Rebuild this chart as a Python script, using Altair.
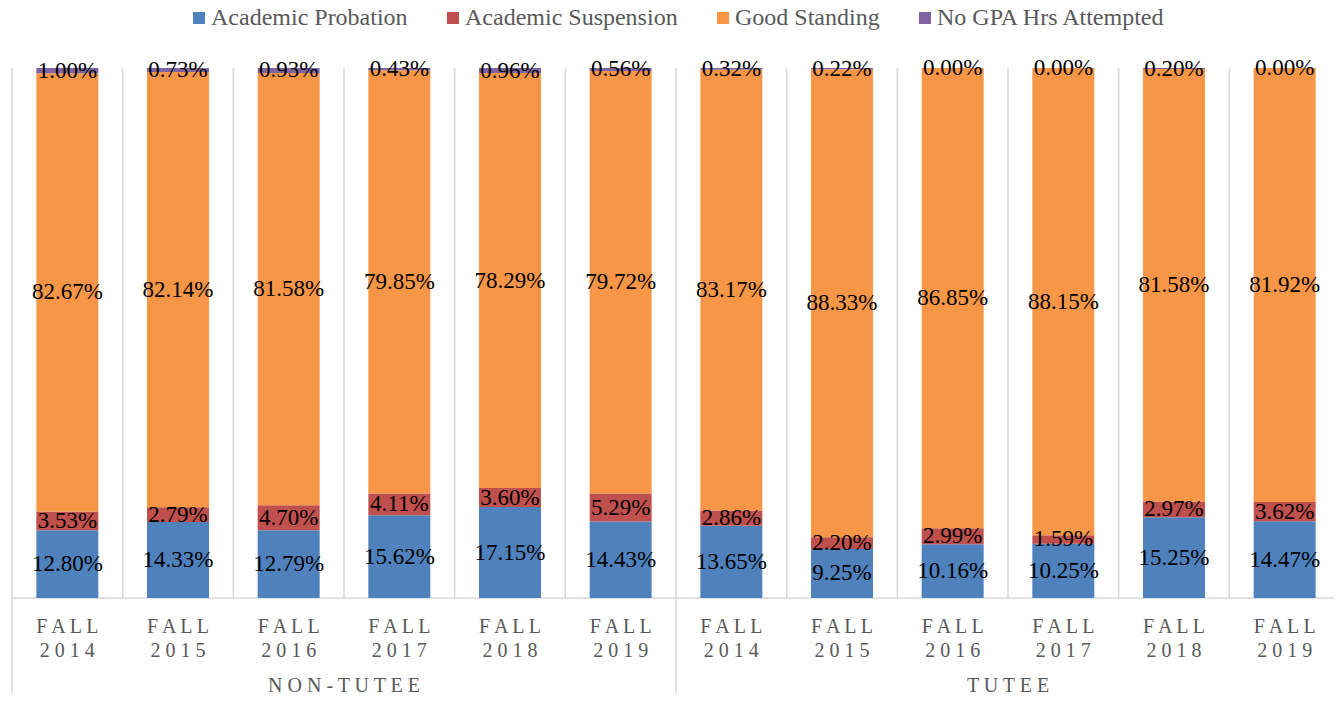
import altair as alt
import pandas as pd

# ---- data ----
groups = ["NON-TUTEE", "TUTEE"]
years = ["2014", "2015", "2016", "2017", "2018", "2019"]
statuses = ["Academic Probation", "Academic Suspension", "Good Standing", "No GPA Hrs Attempted"]
colors = ["#4F81BD", "#C0504D", "#F79646", "#8064A2"]

nt_probation = [12.80, 14.33, 12.79, 15.62, 17.15, 14.43]
nt_suspension = [3.53, 2.79, 4.70, 4.11, 3.60, 5.29]
nt_good = [82.67, 82.14, 81.58, 79.85, 78.29, 79.72]
nt_nogpa = [1.00, 0.73, 0.93, 0.43, 0.96, 0.56]

t_probation = [13.65, 9.25, 10.16, 10.25, 15.25, 14.47]
t_suspension = [2.86, 2.20, 2.99, 1.59, 2.97, 3.62]
t_good = [83.17, 88.33, 86.85, 88.15, 81.58, 81.92]
t_nogpa = [0.32, 0.22, 0.00, 0.00, 0.20, 0.00]

series = {
    "NON-TUTEE": [nt_probation, nt_suspension, nt_good, nt_nogpa],
    "TUTEE": [t_probation, t_suspension, t_good, t_nogpa],
}

rows, terms = [], []
for gi, g in enumerate(groups):
    for ti, y in enumerate(years):
        idx = gi * len(years) + ti
        terms.append({"idx": idx, "top": "F A L L", "bottom": " ".join(y)})
        for si, s in enumerate(statuses):
            rows.append({"idx": idx, "group": g, "year": y, "status": s,
                         "order": si, "value": series[g][si][ti]})
df = pd.DataFrame(rows)
terms_df = pd.DataFrame(terms)
n = len(terms)
bounds_df = pd.DataFrame({"b": list(range(n + 1)),
                          "major": [b % len(years) == 0 for b in range(n + 1)]})
axis_df = pd.DataFrame({"x0": [0], "x1": [n]})
groups_df = pd.DataFrame({"group": [" ".join(g) for g in groups],
                          "c": [gi * len(years) + len(years) / 2 for gi in range(len(groups))]})

W, H = 1322, 530
FONT = "Liberation Serif"
GRID = "#D9D9D9"
GRAY = "#595959"

xscale = alt.Scale(domain=[0, n], range=[0, 1328], nice=False, zero=False)
yscale = alt.Scale(domain=[0, 100], nice=False)

stacked = alt.Chart(df).transform_stack(
    stack="value", groupby=["idx"], as_=["y0", "y1"], sort=[alt.SortField("order")]
).transform_calculate(
    xs="datum.idx + 0.22", xe="datum.idx + 0.78", xm="datum.idx + 0.5",
    ym="(datum.y0 + datum.y1) / 2", label="format(datum.value, '.2f') + '%'"
)

bars = stacked.mark_bar().encode(
    x=alt.X("xs:Q", scale=xscale, axis=None),
    x2="xe:Q",
    y=alt.Y("y0:Q", scale=yscale, axis=None),
    y2="y1:Q",
    color=alt.Color("status:N", scale=alt.Scale(domain=statuses, range=colors),
                    legend=alt.Legend(orient="none", legendX=175, legendY=-62,
                                      direction="horizontal", title=None,
                                      symbolType="square", symbolSize=144,
                                      symbolStrokeWidth=0, labelLimit=0,
                                      labelFont=FONT, labelFontSize=24,
                                      labelColor=GRAY, columnPadding=33,
                                      labelOffset=0, padding=0)),
)

labels = stacked.mark_text(font=FONT, fontSize=23, color="black", baseline="middle").encode(
    x=alt.X("xm:Q", scale=xscale, axis=None),
    y=alt.Y("ym:Q", scale=yscale, axis=None),
    text="label:N",
)

grid = alt.Chart(bounds_df).mark_rule(color=GRID, strokeWidth=1.5).encode(
    x=alt.X("b:Q", scale=xscale, axis=None),
    y=alt.value(0), y2=alt.value(H),
)
major = alt.Chart(bounds_df).transform_filter("datum.major").mark_rule(
    color=GRID, strokeWidth=1.5).encode(
    x=alt.X("b:Q", scale=xscale, axis=None),
    y=alt.value(H), y2=alt.value(H + 110),
)
baseline = alt.Chart(axis_df).mark_rule(color=GRID, strokeWidth=1.5).encode(
    x=alt.X("x0:Q", scale=xscale, axis=None), x2="x1:Q",
    y=alt.value(H),
)

ticks_top = alt.Chart(terms_df).transform_calculate(xm="datum.idx + 0.5").mark_text(
    font=FONT, fontSize=20, color=GRAY, baseline="middle").encode(
    x=alt.X("xm:Q", scale=xscale, axis=None), y=alt.value(H + 29), text="top:N")
ticks_bot = alt.Chart(terms_df).transform_calculate(xm="datum.idx + 0.5").mark_text(
    font=FONT, fontSize=20, color=GRAY, baseline="middle").encode(
    x=alt.X("xm:Q", scale=xscale, axis=None), y=alt.value(H + 53), text="bottom:N")
group_labels = alt.Chart(groups_df).mark_text(
    font=FONT, fontSize=20, color=GRAY, baseline="alphabetic").encode(
    x=alt.X("c:Q", scale=xscale, axis=None), y=alt.value(H + 94), text="group:N")

chart = alt.layer(grid, major, baseline, bars, labels, ticks_top, ticks_bot, group_labels).properties(
    width=W, height=H,
    autosize=alt.AutoSizeParams(type="none"),
    padding={"left": 4, "top": 60, "right": 0, "bottom": 96},
).configure_view(stroke=None)

chart.save("out.html", embed_options={"renderer": "svg", "actions": False})
